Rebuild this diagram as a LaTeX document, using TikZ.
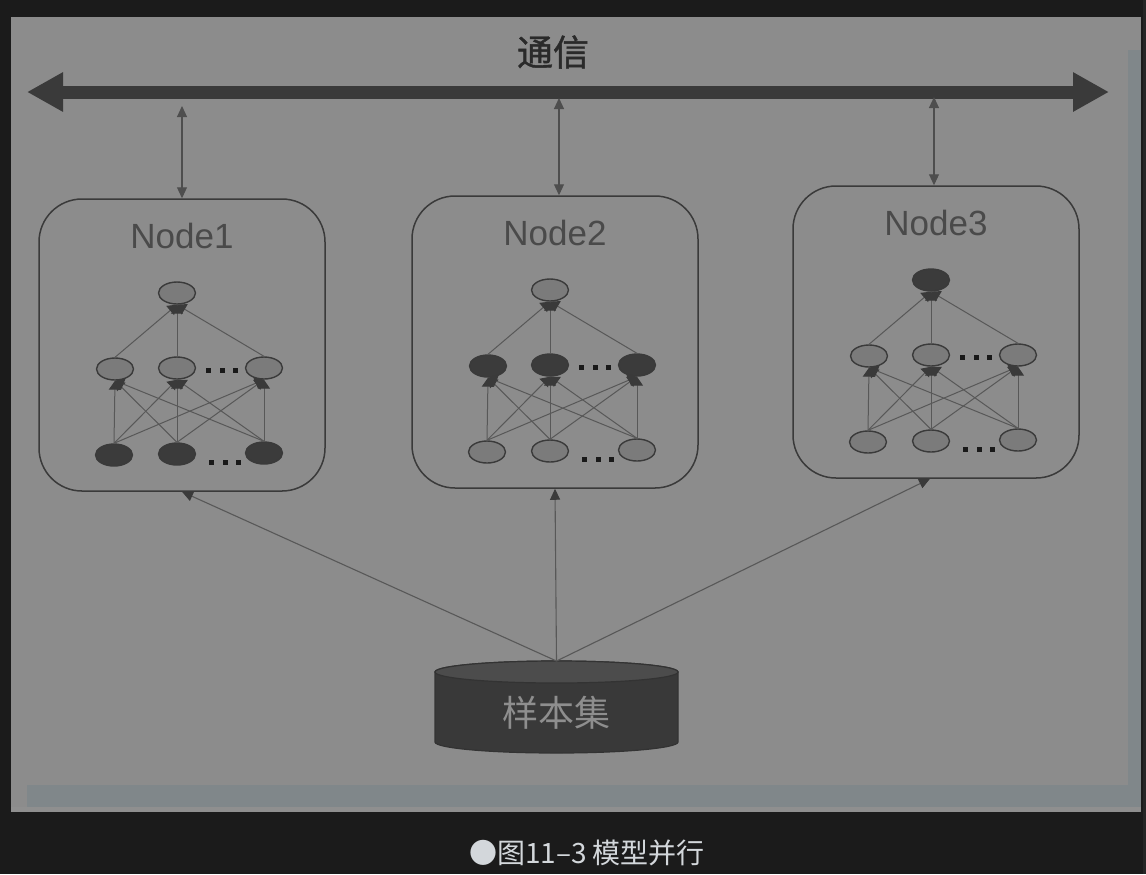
\documentclass[tikz,border=0pt]{standalone}
\usepackage{fontspec}
\setmainfont{Liberation Sans}
\newfontfamily\cjk{Noto Sans CJK SC}
\newfontfamily\cjkheavy{Noto Sans CJK SC}[FakeBold=1.2]
\usetikzlibrary{shapes.geometric,arrows.meta,calc}
\definecolor{bgdark}{HTML}{1B1B1B}
\definecolor{panel}{HTML}{8C8C8C}
\definecolor{bluish}{HTML}{80878A}
\definecolor{band}{HTML}{8F8F8F}
\definecolor{ink}{HTML}{3A3A3A}
\definecolor{midfill}{HTML}{7B7B7B}
\definecolor{darkfill}{HTML}{3B3B3B}
\definecolor{edgegray}{HTML}{585858}
\definecolor{titlegray}{HTML}{4A4A4A}
\definecolor{captiongray}{HTML}{D3D7DB}
\definecolor{cyltext}{HTML}{8E8E8E}
\definecolor{cylbody}{HTML}{393939}
\definecolor{cyltop}{HTML}{4C4C4C}
\definecolor{commtext}{HTML}{2A2A2A}
\newcommand\sqdots{\rule{2.5pt}{2.5pt}\hspace{4.15pt}\rule{2.5pt}{2.5pt}\hspace{4.15pt}\rule{2.5pt}{2.5pt}}
\tikzset{
  netbox/.style={draw=ink, line width=0.75pt, rounded corners=21.5pt, minimum width=143pt, minimum height=146pt, inner sep=0pt},
  boxtitle/.style={text=titlegray, font=\fontsize{17.5}{20}\selectfont, inner sep=0pt},
  neuron/.style={ellipse, draw=ink, line width=0.7pt, minimum width=18.5pt, minimum height=11pt, inner sep=0pt},
  netedge/.style={draw=edgegray, line width=0.5pt, -{Triangle[length=4.5pt,width=6pt,color=ink]}},
  dotrow/.style={inner sep=0pt, text=black!90},
  busarrow/.style={draw=ink, line width=6.5pt, {Triangle[length=18pt,width=18.5pt]}-{Triangle[length=18pt,width=18.5pt]}},
  commarrow/.style={draw=ink!90, line width=0.55pt, {Triangle[length=5.5pt,width=5pt]}-{Triangle[length=5.5pt,width=5pt]}},
  feedarrow/.style={draw=edgegray, line width=0.55pt, -{Triangle[length=5.5pt,width=5pt,color=ink]}},
}
% #1 prefix, #2 x, #3 y, #4 title, #5 top fill, #6 middle fill, #7 bottom fill
\newcommand\netgroup[7]{%
  \begin{scope}[shift={(#2,#3)}, name prefix=#1-]
    \node[netbox] (box) at (143,146) {};
    \node[boxtitle] (title) at (143,37) {#4};
    \node[neuron, fill=#5] (t) at (138,94) {};
    \node[neuron, fill=#6] (m1) at (76,170) {};
    \node[neuron, fill=#6] (m2) at (138,169) {};
    \node[neuron, fill=#6] (m3) at (225,169) {};
    \node[neuron, fill=#7] (b1) at (75,256) {};
    \node[neuron, fill=#7] (b2) at (138,255) {};
    \node[neuron, fill=#7] (b3) at (225,254) {};
    \node[dotrow] (dm) at (183,171) {\sqdots};
    \node[dotrow] (db) at (186,263) {\sqdots};
    \foreach \i in {1,2,3}{
      \foreach \j in {1,2,3}{
        \draw[netedge] (b\i.north) -- (m\j.south);
      }
      \draw[netedge] (m\i.north) -- (t.south);
    }
  \end{scope}
}
\begin{document}
\begin{tikzpicture}[x=0.5pt, y=-0.5pt]
  \useasboundingbox (0,0) rectangle (1146,874);
  \fill[bgdark] (0,0) rectangle (1146,874);
  \fill[black!85] (1143,0) rectangle (1146,874);
  % panel
  \fill[panel] (11,17) rectangle (1141,812);
  \fill[bluish] (1128,50) rectangle (1141,807);
  \fill[bluish] (27,785) rectangle (1141,807);
  \fill[band] (11,807) rectangle (1141,812);
  % bus
  \node[text=commtext, font=\cjkheavy\fontsize{18}{20}\selectfont, inner sep=0pt] (comm) at (553,52) {通信};
  \coordinate (busL) at (27,92);
  \coordinate (busR) at (1109,92);
  \draw[busarrow] (busL) -- (busR);
  % networks
  \netgroup{n1}{39}{199}{Node1}{midfill}{midfill}{darkfill}
  \netgroup{n2}{412}{196}{Node2}{midfill}{darkfill}{midfill}
  \netgroup{n3}{793}{186}{Node3}{darkfill}{midfill}{midfill}
  % comm arrows
  \coordinate (c1) at (182,106);
  \coordinate (c2) at (559,98);
  \coordinate (c3) at (934,97);
  \draw[commarrow] (c1) -- (c1 |- n1-box.north);
  \draw[commarrow] (c2) -- (c2 |- n2-box.north);
  \draw[commarrow] (c3) -- (c3 |- n3-box.north);
  % cylinder
  \fill[cylbody, draw=black!80, line width=0.6pt] (435,672) -- (435,742) arc[start angle=180, end angle=360, x radius=60.75pt, y radius=5.5pt] -- (678,672) arc[start angle=0, end angle=180, x radius=60.75pt, y radius=5.5pt] -- cycle;
  \filldraw[fill=cyltop, draw=black!80, line width=0.6pt] (556.5,672) ellipse [x radius=60.75pt, y radius=5.5pt];
  \node[text=cyltext, font=\cjk\fontsize{18}{20}\selectfont, inner sep=0pt] (samples) at (556.5,713) {样本集};
  \coordinate (cyl) at (556.5,661);
  \draw[feedarrow] (cyl) -- (n1-box.south);
  \draw[feedarrow] (cyl) -- (n2-box.south);
  \draw[feedarrow] (cyl) -- ($(n3-box.south)+(-6,0)$);
  % caption
  \node[text=captiongray, font=\cjk\fontsize{14}{16}\selectfont, inner sep=0pt] (caption) at (587,853) {●图11–3 模型并行};
\end{tikzpicture}
\end{document}
